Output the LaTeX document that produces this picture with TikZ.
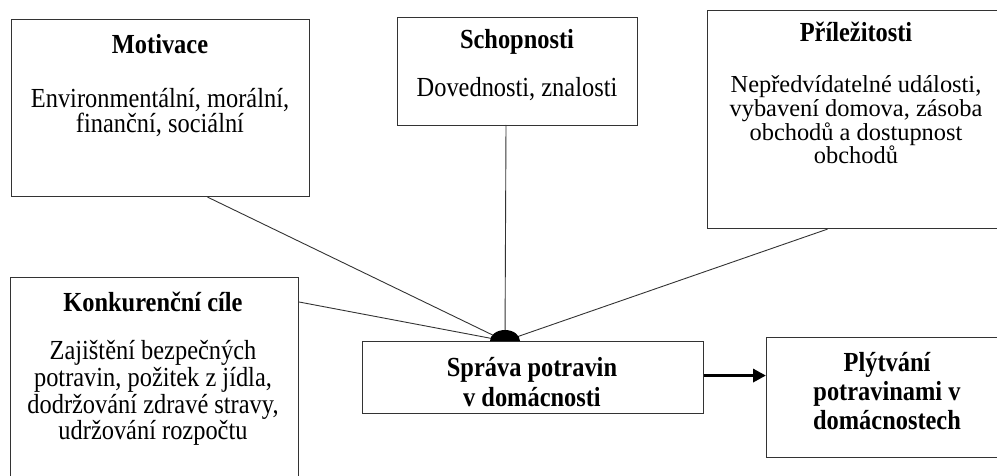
\documentclass[tikz,border=0pt]{standalone}
\usepackage{fontspec}
\setmainfont{Liberation Serif}
\usetikzlibrary{arrows.meta,calc}
\newcommand{\vs}[1]{\scalebox{1}[1.13]{#1}}
\newcommand{\tightls}{\setlength{\lineskiplimit}{-50pt}}
\begin{document}
\begin{tikzpicture}[x=1pt,y=-1pt,
  box/.style={draw=black!80,line width=1.1pt,inner sep=0pt,anchor=north west},
  ttl/.style={font={\fontsize{24.4}{29}\selectfont\bfseries\tightls},align=center,inner sep=0pt},
  bdy/.style={font={\fontsize{24.4}{#1}\selectfont\tightls},align=center,inner sep=0pt},
  bdy/.default=25,
  link/.style={draw=black!80,line width=0.9pt},
  arr/.style={draw=black,line width=3.6pt,-{Triangle[length=13pt,width=13pt]}}]
\useasboundingbox (0,0) rectangle (997,476);
\clip (0,0) rectangle (997,476);
% boxes
\node[box,minimum width=298pt,minimum height=177pt] (mot) at (11,19) {};
\node[box,minimum width=240pt,minimum height=108pt] (sch) at (397,17) {};
\node[box,minimum width=296pt,minimum height=218pt] (pri) at (707,10) {};
\node[box,minimum width=288pt,minimum height=220pt] (kon) at (10,277) {};
\node[box,minimum width=341pt,minimum height=72pt] (spr) at (362,341) {};
\node[box,minimum width=243pt,minimum height=120pt] (ply) at (766,337) {};
% texts
\node[ttl] (motT) at (160,44) {\vs{Motivace}};
\node[bdy] (motB) at (160,113) {\vs{Environmentální, morální,}\\\vs{finanční, sociální}};
\node[ttl] (schT) at (517,42) {\vs{Schopnosti}};
\node[bdy] (schB) at (517,89) {\vs{Dovednosti, znalosti}};
\node[ttl] (priT) at (856,32) {\vs{Příležitosti}};
\node[bdy=23.6] (priB) at (856,120) {Nepředvídatelné události,\\vybavení domova, zásoba\\obchodů a dostupnost\\obchodů};
\node[ttl] (konT) at (153,302) {\vs{Konkurenční cíle}};
\node[bdy=26.7] (konB) at (153,393) {\vs{Zajištění bezpečných}\\\vs{potravin, požitek z jídla,}\\\vs{dodržování zdravé stravy,}\\\vs{udržování rozpočtu}};
\node[ttl,font={\fontsize{24.4}{30}\selectfont\bfseries\tightls}] (sprT) at (532,382) {\vs{Správa potravin}\\\vs{v domácnosti}};
\node[ttl] (plyT) at (887,391) {\vs{Plýtvání}\\\vs{potravinami v}\\\vs{domácnostech}};
% connection points
\coordinate (j) at (505,341);
\coordinate (m1) at ([xshift=47pt]mot.south);
\coordinate (s1) at (506,125);
\coordinate (p1) at ([xshift=-28pt]pri.south);
\coordinate (k1) at ([yshift=-25pt]kon.north east);
\draw[link] (m1) -- (j);
\draw[link] (s1) -- (j);
\draw[link] (p1) -- (j);
\draw[link] (k1) -- (j);
\fill[black] (j) ++(-15,0) arc[start angle=180,end angle=360,x radius=15,y radius=11] -- cycle;
\draw[arr] ([yshift=2pt]spr.east) -- ([yshift=2pt]spr.east -| ply.west);
\end{tikzpicture}
\end{document}
